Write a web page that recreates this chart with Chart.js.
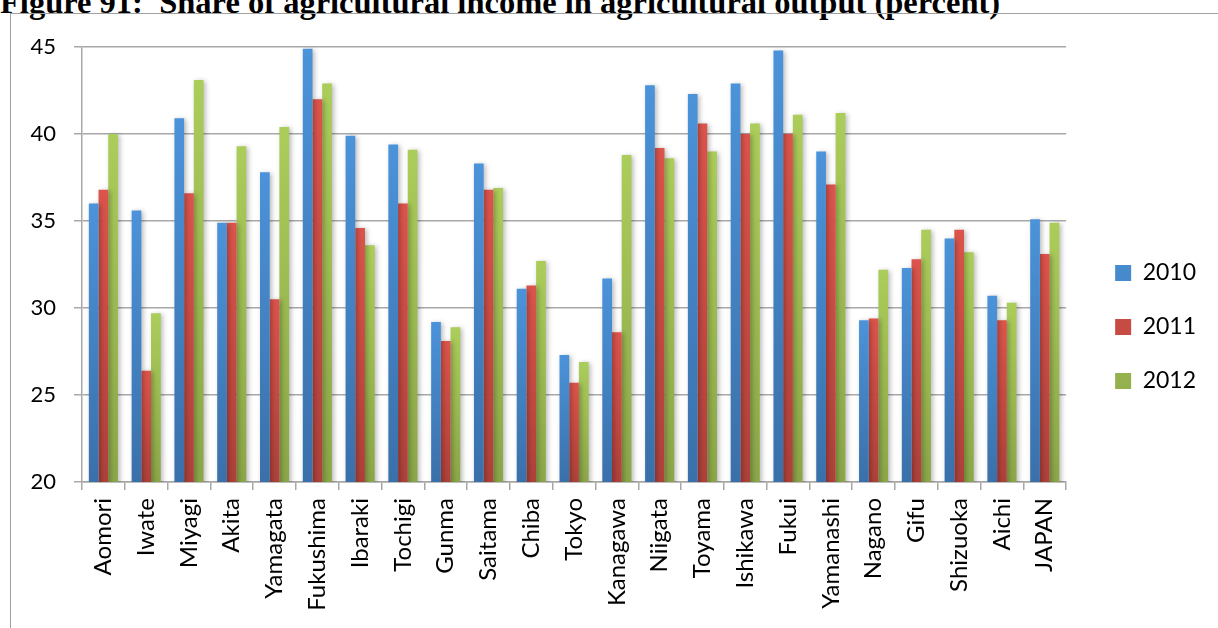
<!DOCTYPE html>
<html>
<head>
<meta charset="utf-8">
<script src="https://cdn.jsdelivr.net/npm/chart.js@4.4.1/dist/chart.umd.min.js"></script>
<style>
  html, body { margin: 0; padding: 0; background: #fff; overflow: hidden; }
  #title {
    position: absolute; left: 0; top: -14px; white-space: nowrap;
    font: bold 32.5px/32.5px "Liberation Serif", "Times New Roman", serif; color: #000;
  }
  #frame {
    position: absolute; left: 10px; top: 13px; width: 1240px; height: 640px;
    border-left: 1.5px solid #a0a0a0; border-top: 1.5px solid #a0a0a0;
  }
  #wrap { position: absolute; left: 0; top: 0; width: 1207px; height: 613px; }
</style>
</head>
<body>
<div id="title">Figure 91:&nbsp; Share of agricultural income in agricultural output (percent)</div>
<div id="frame"><div id="wrap"><canvas id="chart"></canvas></div></div>
<script>
// prefectures on the x axis
const categories = ['Aomori', 'Iwate', 'Miyagi', 'Akita', 'Yamagata', 'Fukushima', 'Ibaraki', 'Tochigi',
  'Gunma', 'Saitama', 'Chiba', 'Tokyo', 'Kanagawa', 'Niigata', 'Toyama', 'Ishikawa', 'Fukui',
  'Yamanashi', 'Nagano', 'Gifu', 'Shizuoka', 'Aichi', 'JAPAN'];
const seriesNames = ['2010', '2011', '2012'];
const v2010 = [36.0, 35.6, 40.9, 34.9, 37.8, 44.9, 39.9, 39.4, 29.2, 38.3, 31.1, 27.3, 31.7, 42.8, 42.3, 42.9, 44.8, 39.0, 29.3, 32.3, 34.0, 30.7, 35.1];
const v2011 = [36.8, 26.4, 36.6, 34.9, 30.5, 42.0, 34.6, 36.0, 28.1, 36.8, 31.3, 25.7, 28.6, 39.2, 40.6, 40.0, 40.0, 37.1, 29.4, 32.8, 34.5, 29.3, 33.1];
const v2012 = [40.0, 29.7, 43.1, 39.3, 40.4, 42.9, 33.6, 39.1, 28.9, 36.9, 32.7, 26.9, 38.8, 38.6, 39.0, 40.6, 41.1, 41.2, 32.2, 34.5, 33.2, 30.3, 34.9];
// y axis ticks
const yTicks = [20, 25, 30, 35, 40, 45];

// top / bottom colours of the excel style gradient
const colours = [
  ['#4b93da', '#3a70aa'],
  ['#dc544b', '#ad413a'],
  ['#abcd5a', '#8ba648']
];
const legendOffsetX = 18;
const legendOffsetY = -10;
const gridColor = '#a8a8a8';

function barGradient(idx) {
  return function(context) {
    const chart = context.chart;
    const c = colours[idx];
    if (!chart.chartArea || context.type !== 'data') return c[0];
    const y = chart.scales.y;
    const top = y.getPixelForValue(context.raw);
    const bottom = y.getPixelForValue(yTicks[0]);
    if (!(bottom > top)) return c[0];
    const g = chart.ctx.createLinearGradient(0, top, 0, bottom);
    g.addColorStop(0, c[0]);
    g.addColorStop(1, c[1]);
    return g;
  };
}

const barShadow = {
  id: 'barShadow',
  beforeDatasetsDraw(chart) {
    const ctx = chart.ctx;
    ctx.save();
    ctx.shadowColor = 'rgba(0,0,0,0.28)';
    ctx.shadowBlur = 5;
    ctx.shadowOffsetX = 2;
    ctx.shadowOffsetY = 1;
  },
  afterDatasetsDraw(chart) {
    chart.ctx.restore();
  }
};

// legend sits a bit away from the plot like in excel
const legendShift = {
  id: 'legendShift',
  afterLayout(chart) {
    chart.legend.left += legendOffsetX;
    chart.legend.right += legendOffsetX;
    chart.legend.top += legendOffsetY;
    chart.legend.bottom += legendOffsetY;
  }
};

const ctx = document.getElementById('chart').getContext('2d');
new Chart(ctx, {
  type: 'bar',
  data: {
    labels: categories,
    datasets: [v2010, v2011, v2012].map((d, i) => ({
      label: seriesNames[i],
      data: d,
      backgroundColor: barGradient(i),
      borderWidth: 0,
      categoryPercentage: 0.68,
      barPercentage: 1.0
    }))
  },
  options: {
    responsive: true,
    maintainAspectRatio: false,
    animation: false,
    layout: { padding: { top: 33, left: 0, right: 30, bottom: 0 } },
    plugins: {
      tooltip: { enabled: false },
      legend: {
        position: 'right',
        labels: {
          boxWidth: 16,
          boxHeight: 16,
          padding: 31,
          color: '#000',
          font: { family: 'Lato', size: 23 }
        }
      }
    },
    scales: {
      x: {
        grid: {
          drawOnChartArea: false,
          drawTicks: true,
          tickLength: 8,
          color: gridColor,
          lineWidth: 1.5
        },
        border: { display: true, color: gridColor, width: 1.5 },
        ticks: {
          color: '#000',
          minRotation: 90,
          maxRotation: 90,
          autoSkip: false,
          padding: 8,
          font: { family: 'Lato', size: 24 }
        },
        afterFit(scale) { scale.height = 145; }
      },
      y: {
        min: yTicks[0],
        max: yTicks[yTicks.length - 1],
        afterBuildTicks(scale) { scale.ticks = yTicks.map(v => ({ value: v })); },
        grid: {
          color: gridColor,
          lineWidth: 1.5,
          tickLength: 8
        },
        border: { display: true, color: gridColor, width: 1.5 },
        ticks: {
          color: '#000',
          padding: 18,
          font: { family: 'Lato', size: 22 }
        },
        afterFit(scale) { scale.width = 71; }
      }
    }
  },
  plugins: [barShadow, legendShift]
});
</script>
</body>
</html>
